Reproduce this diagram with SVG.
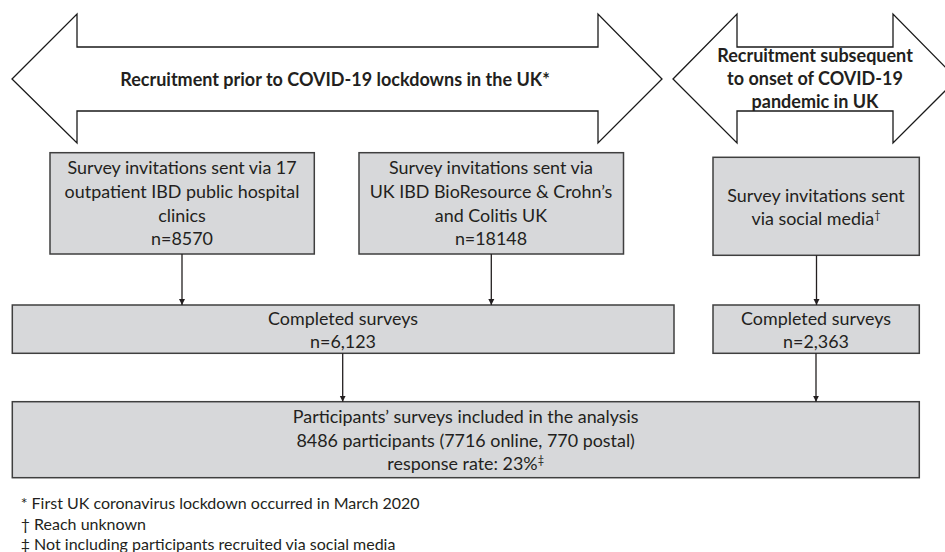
<svg xmlns="http://www.w3.org/2000/svg" width="945" height="552" viewBox="0 0 945 552">
  <style>
    .arrowshape { fill: #ffffff; stroke: #1a1a1a; stroke-width: 1.3; }
    .box { fill: #d7d8da; stroke: #3f3f3f; stroke-width: 1.5; }
    .t { font-family: Lato, "Open Sans", "Liberation Sans", sans-serif; font-size: 17.9px; fill: #231f20; text-anchor: middle; }
    .tb { font-family: Lato, "Open Sans", "Liberation Sans", sans-serif; font-size: 18px; font-weight: bold; fill: #231f20; text-anchor: middle; }
    .fn { font-family: Lato, "Open Sans", "Liberation Sans", sans-serif; font-size: 16px; fill: #231f20; }
    .sup { font-size: 11px; }
    .conn { stroke: #231f20; stroke-width: 1.3; fill: none; marker-end: url(#ah); }
  </style>
  <defs>
    <marker id="ah" markerUnits="userSpaceOnUse" markerWidth="7" markerHeight="7" refX="6" refY="3.5" orient="auto">
      <path d="M0,0.5 L6,3.5 L0,6.5 z" fill="#231f20"/>
    </marker>
  </defs>

  <g id="phase-prior">
    <polygon class="arrowshape" points="12,79 77,14 77,47 598,47 598,14 662,79 598,143 598,111 77,111 77,143"/>
    <text class="tb" x="335" y="86">Recruitment prior to COVID-19 lockdowns in the UK*</text>
  </g>

  <g id="phase-subsequent">
    <polygon class="arrowshape" points="673,79 737,14 737,47 893,47 893,14 957,79 893,143 893,111 737,111 737,143"/>
    <text class="tb" x="815" y="62">Recruitment subsequent</text>
    <text class="tb" x="815" y="85">to onset of COVID-19</text>
    <text class="tb" x="815" y="108">pandemic in UK</text>
  </g>

  <g id="hospital">
    <rect class="box" x="50" y="152.7" width="264.3" height="101.3"/>
    <text class="t" x="182" y="174.3">Survey invitations sent via 17</text>
    <text class="t" x="182" y="198">outpatient IBD public hospital</text>
    <text class="t" x="182" y="221.7">clinics</text>
    <text class="t" x="182" y="245">n=8570</text>
  </g>

  <g id="bioresource">
    <rect class="box" x="359" y="152.7" width="264.5" height="101.3"/>
    <text class="t" x="491" y="174.3">Survey invitations sent via</text>
    <text class="t" x="491" y="198">UK IBD BioResource &amp; Crohn’s</text>
    <text class="t" x="491" y="221.7">and Colitis UK</text>
    <text class="t" x="491" y="245">n=18148</text>
  </g>

  <g id="social">
    <rect class="box" x="713" y="157.3" width="206.3" height="98"/>
    <text class="t" x="816" y="201.7">Survey invitations sent</text>
    <text class="t" x="816" y="225">via social media<tspan class="sup" dy="-6">†</tspan></text>
  </g>

  <g id="completed-prior">
    <rect class="box" x="12.3" y="305" width="661.7" height="48.3"/>
    <text class="t" x="343" y="325">Completed surveys</text>
    <text class="t" x="343" y="348.3">n=6,123</text>
  </g>

  <g id="completed-social">
    <rect class="box" x="713" y="305" width="206.3" height="48.3"/>
    <text class="t" x="816" y="325">Completed surveys</text>
    <text class="t" x="816" y="348.3">n=2,363</text>
  </g>

  <g id="analysis">
    <rect class="box" x="12.3" y="401.7" width="907" height="76"/>
    <text class="t" x="465.7" y="423.3">Participants’ surveys included in the analysis</text>
    <text class="t" x="465.7" y="446.7">8486 participants (7716 online, 770 postal)</text>
    <text class="t" x="465.7" y="469.5">response rate: 23%<tspan class="sup" dy="-6">‡</tspan></text>
  </g>

  <g id="connectors">
    <line class="conn" x1="182" y1="254" x2="182" y2="305"/>
    <line class="conn" x1="491.3" y1="254" x2="491.3" y2="305"/>
    <line class="conn" x1="816.5" y1="255.3" x2="816.5" y2="305"/>
    <line class="conn" x1="342.7" y1="353.3" x2="342.7" y2="401.7"/>
    <line class="conn" x1="816" y1="353.3" x2="816" y2="401.7"/>
  </g>

  <g id="footnotes">
    <text class="fn" x="20.7" y="509">* First UK coronavirus lockdown occurred in March 2020</text>
    <text class="fn" x="20.7" y="529.5">† Reach unknown</text>
    <text class="fn" x="20.7" y="550">‡ Not including participants recruited via social media</text>
  </g>
</svg>
